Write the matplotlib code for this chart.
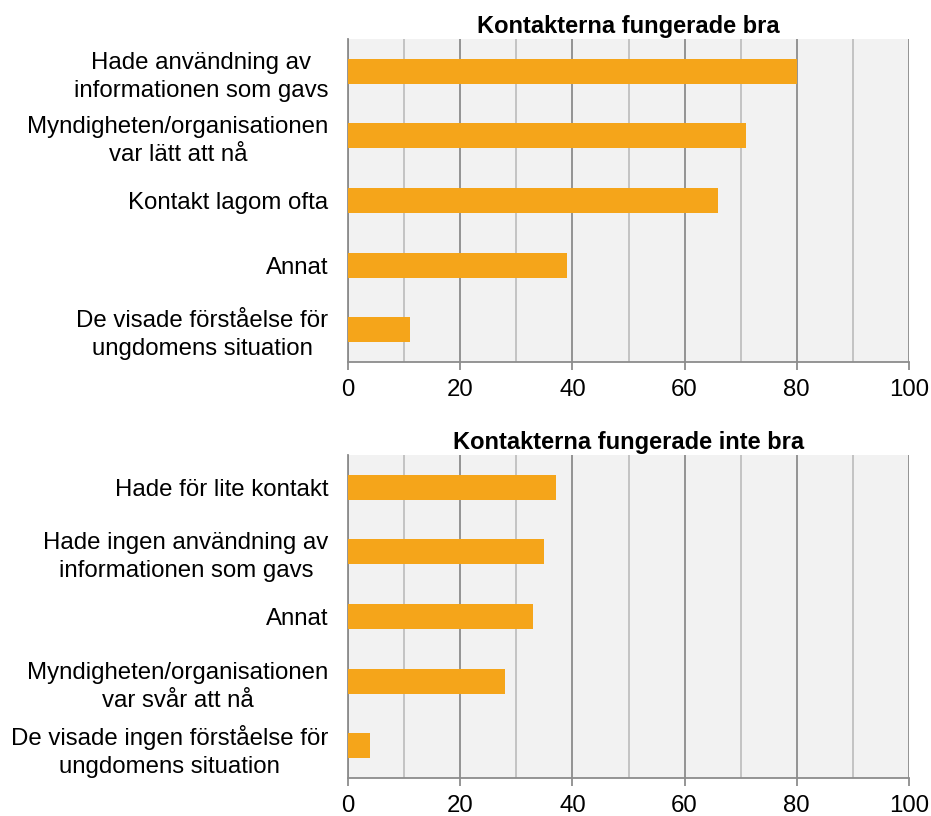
import matplotlib.pyplot as plt
from matplotlib.ticker import MultipleLocator

plt.rcParams['font.family'] = ['Liberation Sans', 'DejaVu Sans']

# data
titel_bra = "Kontakterna fungerade bra"
kat_bra = ["Hade användning av\ninformationen som gavs",
           "Myndigheten/organisationen\nvar lätt att nå",
           "Kontakt lagom ofta",
           "Annat",
           "De visade förståelse för\nungdomens situation"]
varden_bra = [80, 71, 66, 39, 11]

titel_inte = "Kontakterna fungerade inte bra"
kat_inte = ["Hade för lite kontakt",
            "Hade ingen användning av\ninformationen som gavs",
            "Annat",
            "Myndigheten/organisationen\nvar svår att nå",
            "De visade ingen förståelse för\nungdomens situation"]
varden_inte = [37, 35, 33, 28, 4]

W, H = 931, 816
fig = plt.figure(figsize=(W / 100, H / 100), dpi=100)

farg = "#f5a51a"
fs = 17.3

def panel(rect, kat, varden, titel):
    ax = fig.add_axes(rect)
    ax.set_facecolor("#f2f2f2")
    y = list(range(len(kat)))
    ax.barh(y, varden, height=0.39, color=farg, zorder=3)
    ax.set_xlim(0, 100)
    ax.set_ylim(len(kat) - 0.5, -0.5)
    ax.xaxis.set_major_locator(MultipleLocator(20))
    ax.xaxis.set_minor_locator(MultipleLocator(10))
    ax.grid(which='major', axis='x', color="#8c8c8c", lw=1.3, zorder=1)
    ax.grid(which='minor', axis='x', color="#c0c0c0", lw=1.3, zorder=1)
    ax.set_yticks(y)
    ax.set_yticklabels(kat, fontsize=fs, linespacing=1.35)
    for lab in ax.get_yticklabels():
        lab.set_multialignment('center')
    ax.tick_params(axis='y', length=0, pad=14)
    ax.tick_params(axis='x', which='major', length=6, width=1.3, color="#8c8c8c",
                   labelsize=fs, pad=6)
    ax.tick_params(axis='x', which='minor', length=0)
    for s in ['top', 'right']:
        ax.spines[s].set_visible(False)
    for s in ['left', 'bottom']:
        ax.spines[s].set_color("#8c8c8c")
        ax.spines[s].set_linewidth(1.3)
    ax.set_title(titel, fontsize=17, fontweight='bold', pad=4)
    return ax

panel([348 / W, (H - 362) / H, 561 / W, 323 / H], kat_bra, varden_bra, titel_bra)
panel([348 / W, (H - 778) / H, 561 / W, 323 / H], kat_inte, varden_inte, titel_inte)

fig.savefig("out.png", dpi=100)
